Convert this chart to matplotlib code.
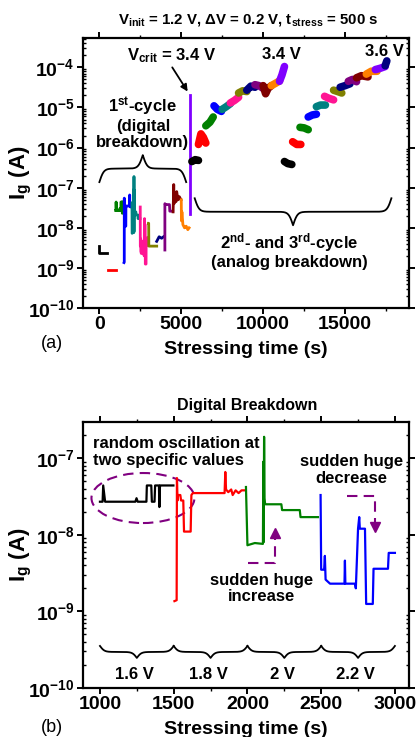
import numpy as np
import matplotlib
matplotlib.use("Agg")
import matplotlib.pyplot as plt
from matplotlib.patches import Ellipse
from matplotlib.ticker import LogLocator, MultipleLocator, FuncFormatter, NullFormatter
from matplotlib.transforms import blended_transform_factory

plt.rcParams['font.family'] = ['Liberation Sans', 'DejaVu Sans']
plt.rcParams['font.weight'] = 'bold'
plt.rcParams['axes.labelweight'] = 'bold'
plt.rcParams['mathtext.fontset'] = 'custom'
plt.rcParams['mathtext.rm'] = 'Liberation Sans:bold'
plt.rcParams['mathtext.it'] = 'Liberation Sans:bold'
plt.rcParams['mathtext.bf'] = 'Liberation Sans:bold'
plt.rcParams['mathtext.default'] = 'bf'

# colours of successive stress steps (Origin-like palette)
step_colors = ['#000000', '#ff0000', '#008000', '#0000ff', '#008080', '#ff1493',
               '#808000', '#000080', '#800080', '#800000', '#ff8000', '#8000ff', '#000080']

# ---- digital breakdown 1000-3000 s (shown in both panels) ----
dig_16_t = [1000, 1018, 1022, 1035, 1240, 1248, 1256, 1315, 1318, 1348, 1352, 1370, 1374,
            1400, 1403, 1407, 1410, 1498]
dig_16_i = [2.7e-8, 2.7e-8, 4.4e-8, 2.7e-8, 2.7e-8, 3.0e-8, 2.7e-8, 2.7e-8, 4.4e-8, 4.4e-8,
            2.7e-8, 2.7e-8, 4.4e-8, 4.4e-8, 2.3e-8, 4.4e-8, 4.4e-8, 4.4e-8]
dig_18_t = [1505, 1520, 1522, 1526, 1530, 1545, 1550, 1565, 1570, 1615, 1620, 1630, 1845,
            1850, 1855, 1870, 1890, 1900, 1920, 1940, 1960, 1983]
dig_18_i = [1.36e-9, 1.4e-9, 5.5e-8, 2.8e-8, 3.3e-8, 3.3e-8, 2.8e-8, 2.8e-8, 1.1e-8, 1.1e-8,
            3.3e-8, 3.5e-8, 3.5e-8, 6.6e-8, 3.9e-8, 3.6e-8, 3.9e-8, 3.3e-8, 3.8e-8, 3.5e-8,
            3.8e-8, 3.8e-8]
dig_20_t = [1990, 2000, 2050, 2105, 2108, 2110, 2113, 2116, 2119, 2122, 2230, 2235, 2355,
            2360, 2478]
dig_20_i = [4.2e-8, 7.3e-9, 7.8e-9, 7.6e-9, 9.0e-8, 8e-9, 1.9e-7, 3e-8, 2.6e-8, 2.5e-8,
            2.5e-8, 2.1e-8, 2.1e-8, 1.7e-8, 1.7e-8]
dig_22_t = [2496, 2500, 2520, 2525, 2530, 2560, 2658, 2661, 2664, 2729, 2735, 2750, 2758,
            2762, 2797, 2805, 2850, 2855, 2953, 2958, 3000]
dig_22_i = [3.3e-8, 3.5e-9, 3.5e-9, 5.3e-9, 2.6e-9, 2.3e-9, 2.3e-9, 4.6e-9, 2.3e-9, 2.3e-9,
            2.0e-9, 1.2e-8, 1.7e-8, 1.2e-8, 1.2e-8, 1.25e-9, 1.25e-9, 3.6e-9, 3.6e-9, 5.8e-9,
            5.8e-9]

# ---- panel (a): first cycle, the remaining steps ----
c1_t = [
    [0, 0, 450],
    [500, 1000],
    dig_16_t, dig_18_t, dig_20_t, dig_22_t,
    [3000, 3010, 3020, 3500],
    [3500, 3650, 3800, 3920],
    [4000, 4000, 4030, 4280, 4300, 4480],
    [4500, 4520, 4540, 4560, 4620, 4680, 4720, 4800, 4880, 4980],
    [5000, 5010, 5040, 5100, 5200, 5300, 5400, 5480],
    [5520, 5520],
]
c1_i = [
    [3.5e-9, 2.4e-9, 2.4e-9],
    [9e-10, 9e-10],
    dig_16_i, dig_18_i, dig_20_i, dig_22_i,
    [1.3e-8, 1.3e-8, 3.5e-9, 3.5e-9],
    [4.6e-9, 6e-9, 5.5e-9, 6e-9],
    [2.8e-9, 4e-8, 3.8e-8, 3.8e-8, 2.6e-8, 2.6e-8],
    [2.5e-8, 5e-8, 1.2e-7, 4e-8, 6e-8, 4.5e-8, 8e-8, 5e-8, 6e-8, 5e-8],
    [5e-8, 1.5e-8, 2.5e-8, 1.2e-8, 1e-8, 1.1e-8, 9e-9, 1e-8],
    [2.2e-8, 2.1e-5],
]

# ---- panel (a): second cycle (analog) ----
c2_t = [
    [5650, 5850, 6050], [6050, 6200, 6350, 6500], [6500, 6750, 6950], [7000, 7200, 7450],
    [7500, 7750, 8000], [8000, 8250, 8500], [8500, 8750, 9000], [9000, 9250, 9500],
    [9500, 9750, 10000], [10000, 10150, 10300, 10500], [10500, 10750, 11000],
    [11000, 11150, 11300],
]
c2_i = [
    [4.5e-7, 5e-7, 4.8e-7], [1.2e-6, 2.2e-6, 1.8e-6, 1.3e-6], [3.5e-6, 4.3e-6, 5.8e-6],
    [1.1e-5, 9e-6, 8e-6], [9e-6, 1.05e-5, 1.25e-5], [1.3e-5, 1.5e-5, 1.8e-5],
    [2.3e-5, 2.6e-5, 2.5e-5], [2.7e-5, 3.4e-5, 3.2e-5], [3.7e-5, 3.5e-5, 3e-5],
    [3.5e-5, 2.2e-5, 3.0e-5, 3.5e-5], [3.5e-5, 4e-5, 4.6e-5], [4.5e-5, 6.5e-5, 1.05e-4],
]

# ---- panel (a): third cycle (analog) ----
c3_t = [
    [11300, 11500, 11750], [11800, 12050, 12300], [12250, 12500, 12750],
    [12750, 13000, 13250], [13250, 13500, 13800], [13750, 14000, 14300],
    [14300, 14550, 14800], [14700, 15000, 15300], [15200, 15450, 15700],
    [15700, 16000, 16400], [16300, 16600, 16950], [16850, 17150, 17450], [17450, 17550],
]
c3_i = [
    [4.5e-7, 4e-7, 3.8e-7], [1.4e-6, 1.2e-6, 1.2e-6], [3.2e-6, 3.1e-6, 2.8e-6],
    [5.8e-6, 6.5e-6, 6.8e-6], [1.05e-5, 1.15e-5, 1.15e-5], [1.9e-5, 1.7e-5, 1.55e-5],
    [2.7e-5, 2.5e-5, 2.3e-5], [3.2e-5, 3.5e-5, 3.9e-5], [4.5e-5, 5e-5, 4.4e-5],
    [5.5e-5, 6.2e-5, 5.8e-5], [6.8e-5, 8e-5, 8e-5], [8.8e-5, 9.5e-5, 1.05e-4],
    [1.1e-4, 1.45e-4],
]

# ---- panel (b) ----
b_t = [dig_16_t, dig_18_t, dig_20_t, dig_22_t]
b_i = [dig_16_i, dig_18_i, dig_20_i, dig_22_i]
b_colors = ['#000000', '#ff0000', '#008000', '#0000ff']
b_volts = ['1.6 V', '1.8 V', '2 V', '2.2 V']
b_edges = [1000, 1500, 2000, 2500, 3000]


def log_fmt(v, pos):
    return r'$10^{%d}$' % int(round(np.log10(v)))


def style_axis(ax):
    for s in ax.spines.values():
        s.set_linewidth(1.6)
    ax.set_yscale('log')
    ax.yaxis.set_major_locator(LogLocator(base=10, numticks=20))
    ax.yaxis.set_minor_locator(LogLocator(base=10, subs=np.arange(2, 10), numticks=20))
    ax.yaxis.set_major_formatter(FuncFormatter(log_fmt))
    ax.yaxis.set_minor_formatter(NullFormatter())
    ax.tick_params(axis='both', which='major', direction='out', length=4, width=1.4,
                   labelsize=14, top=True, right=True, pad=2)
    ax.tick_params(axis='y', which='minor', direction='in', length=2.5, width=1, right=True)
    ax.tick_params(axis='x', which='minor', direction='out', length=2.5, width=1, top=True)


def brace(ax, x0, x1, y0, h, lw=1.3):
    # curly brace between data x0..x1, ends at axes-fraction y0, tip at y0+h
    trans = blended_transform_factory(ax.transData, ax.transAxes)
    p0 = ax.transData.transform((x0, 1e-9))[0]
    p1 = ax.transData.transform((x1, 1e-9))[0]
    hw = abs(p1 - p0) / 2.0
    b = hw / 2.2
    u = np.linspace(0, 1, 301)
    f = 1 / (1 + np.exp(-b * u)) + 1 / (1 + np.exp(-b * (u - 1))) - 0.5
    f = f - f[0]
    f = f / f[-1]
    yy = np.concatenate([f, f[-2::-1]])
    xx = np.linspace(x0, x1, len(yy))
    ax.plot(xx, y0 + h * yy, color='black', lw=lw, transform=trans, clip_on=False)


fig = plt.figure(figsize=(4.16, 7.37), dpi=100)

# ================= panel (a) =================
ax1 = fig.add_axes([0.1995, 0.582, 0.7835, 0.366])
style_axis(ax1)
ax1.set_xlim(-1000, 18900)
ax1.set_ylim(1e-10, 5.3e-4)
ax1.xaxis.set_major_locator(MultipleLocator(5000))
ax1.xaxis.set_minor_locator(MultipleLocator(2500))

for k, (tt, ii) in enumerate(zip(c1_t, c1_i)):
    ax1.plot(tt, ii, color=step_colors[k], lw=2.0)
for k, (tt, ii) in enumerate(zip(c2_t, c2_i)):
    ax1.plot(tt, ii, color=step_colors[k], lw=5.5, solid_capstyle='round',
             solid_joinstyle='round')
for k, (tt, ii) in enumerate(zip(c3_t, c3_i)):
    ax1.plot(tt, ii, color=step_colors[k], lw=5.5, solid_capstyle='round',
             solid_joinstyle='round')

ax1.set_ylabel(r'$I_g$ (A)', fontsize=16)
ax1.yaxis.set_label_coords(-0.15, 0.5)
ax1.set_xlabel('Stressing time (s)', fontsize=14)
ax1.xaxis.set_label_coords(0.5, -0.122)

ax1.text(4420, 2.0e-4, r'$V_{crit}$ = 3.4 V', ha='center', va='center', fontsize=12)
ax1.annotate('', xy=(5390, 2.5e-5), xytext=(4450, 1.0e-4),
             arrowprops=dict(arrowstyle='-|>', color='black', lw=1.3, shrinkA=0,
                             shrinkB=0, mutation_scale=10))
ax1.text(11130, 2.1e-4, '3.4 V', ha='center', va='center', fontsize=12)
ax1.text(17410, 2.5e-4, '3.6 V', ha='center', va='center', fontsize=12)
ax1.text(2650, 4.2e-6, '1$^{st}$-cycle\n(digital\nbreakdown)', ha='center', va='center',
         fontsize=12, linespacing=1.05)
ax1.text(11620, 2.7e-9, '2$^{nd}$- and 3$^{rd}$-cycle\n(analog breakdown)', ha='center',
         va='center', fontsize=12, linespacing=1.1)
brace(ax1, 0, 5300, 0.467, 0.10)
brace(ax1, 5820, 17830, 0.407, -0.10)

fig.text(248 / 416, 1 - 20 / 737,
         r'$V_{init}$ = 1.2 V, $\Delta$V = 0.2 V, $t_{stress}$ = 500 s',
         ha='center', va='center', fontsize=10.8)
fig.text(52 / 416, 1 - 344 / 737, '(a)', ha='center', va='center', fontsize=13,
         fontweight='normal')

# ================= panel (b) =================
ax2 = fig.add_axes([0.1995, 0.0665, 0.7835, 0.361])
style_axis(ax2)
ax2.set_xlim(885, 3095)
ax2.set_ylim(1e-10, 2.97e-7)
ax2.xaxis.set_major_locator(MultipleLocator(500))
ax2.xaxis.set_minor_locator(MultipleLocator(250))

for tt, ii, cc in zip(b_t, b_i, b_colors):
    ax2.plot(tt, ii, color=cc, lw=1.6)

ax2.set_ylabel(r'$I_g$ (A)', fontsize=16)
ax2.yaxis.set_label_coords(-0.15, 0.5)
ax2.set_xlabel('Stressing time (s)', fontsize=14)
ax2.xaxis.set_label_coords(0.5, -0.125)

ax2.text(953, 1.2e-7, 'random oscillation at\ntwo specific values', ha='left',
         va='center', fontsize=12, linespacing=1.1)
ax2.add_patch(Ellipse((0.184, 0.714), 0.316, 0.188, transform=ax2.transAxes,
                      fill=False, ec='#800080', lw=1.5, ls=(0, (5, 3))))

ax2.text(2708, 7e-8, 'sudden huge\ndecrease', ha='center', va='center', fontsize=12,
         linespacing=1.1)
ax2.plot([2675, 2864, 2864], [3.2e-8, 3.2e-8, 1.4e-8], color='#800080', lw=1.5,
         ls=(0, (5, 3)))
ax2.plot([2864], [1.25e-8], marker='v', color='#800080', ms=7)

ax2.text(2098, 2.0e-9, 'sudden huge\nincrease', ha='center', va='center', fontsize=12,
         linespacing=1.1)
ax2.plot([2003, 2186, 2186], [4.3e-9, 4.3e-9, 9.5e-9], color='#800080', lw=1.5,
         ls=(0, (5, 3)))
ax2.plot([2186], [1.05e-8], marker='^', color='#800080', ms=7)

for k in range(4):
    brace(ax2, b_edges[k], b_edges[k + 1], 0.158, -0.045)
    ax2.text((b_edges[k] + b_edges[k + 1]) / 2 - 15, 1.5e-10, b_volts[k], ha='center',
             va='center', fontsize=12)

fig.text(247 / 416, 1 - 405 / 737, 'Digital Breakdown', ha='center', va='center',
         fontsize=11.5)
fig.text(52 / 416, 1 - 727 / 737, '(b)', ha='center', va='center', fontsize=13,
         fontweight='normal')

fig.savefig('out.png', dpi=100)
